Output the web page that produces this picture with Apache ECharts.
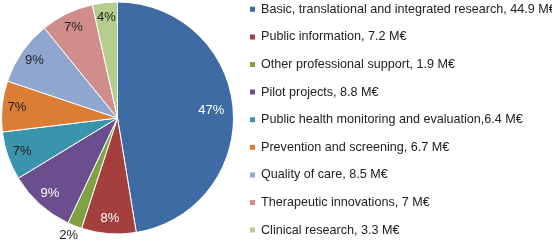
<!DOCTYPE html>
<html>
<head>
<meta charset="utf-8">
<script src="https://cdn.jsdelivr.net/npm/echarts@6/dist/echarts.min.js"></script>
<style>
html,body{margin:0;padding:0;background:#fff;}
#chart{width:552px;height:242px;}
</style>
</head>
<body>
<div id="chart"></div>
<script>
var categories = [
  'Basic, translational and integrated research, 44.9 M€',
  'Public information, 7.2 M€',
  'Other professional support, 1.9 M€',
  'Pilot projects, 8.8 M€',
  'Public health monitoring and evaluation,6.4 M€',
  'Prevention and screening, 6.7 M€',
  'Quality of care, 8.5 M€',
  'Therapeutic innovations, 7 M€',
  'Clinical research, 3.3 M€'
];
var values = [44.9, 7.2, 1.9, 8.8, 6.4, 6.7, 8.5, 7, 3.3];
var colors = ['#3F6BA5', '#A43F3D', '#80A244', '#6A4E8E', '#3A94AC', '#DB7D35', '#8FA6CF', '#D08D8C', '#B5CE8E'];
var labelColors = ['#fff', '#fff', '#222', '#fff', '#222', '#222', '#222', '#222', '#222'];
var outsideLabel = [false, false, true, false, false, false, false, false, false];
var deepLabel = [true, false, false, false, false, false, false, false, false];

var chart = echarts.init(document.getElementById('chart'), null, {renderer: 'canvas'});
var center = [117.5, 118];
var R = 116;

var mainData = categories.map(function (c, i) {
  return {name: c, value: values[i], itemStyle: {color: colors[i]}};
});
function overlayData(deep) {
  return categories.map(function (c, i) {
    var d = {name: c, value: values[i], itemStyle: {color: 'rgba(0,0,0,0)', borderWidth: 0},
      label: {color: labelColors[i], show: deepLabel[i] === deep}};
    if (outsideLabel[i]) {
      d.label.position = 'outside';
      d.label.distanceToLabelLine = -7;
      d.labelLine = {show: false, length: 10, length2: 0};
    }
    return d;
  });
}
var labelStyle = {show: true, position: 'inside', formatter: '{d}%',
  fontFamily: 'Liberation Sans, Arial, sans-serif', fontSize: 13};

chart.setOption({
  animation: false,
  color: colors,
  legend: {
    orient: 'vertical',
    left: 248,
    top: 2.3,
    padding: 0,
    icon: 'rect',
    itemWidth: 7,
    itemHeight: 7,
    itemGap: 13.6,
    selectedMode: false,
    data: categories,
    textStyle: {fontFamily: 'Liberation Sans, Arial, sans-serif', fontSize: 12.6, lineHeight: 14, color: '#222'}
  },
  series: [
    {
      type: 'pie',
      center: center,
      radius: [0, R],
      startAngle: 90,
      clockwise: true,
      silent: true,
      label: {show: false},
      labelLine: {show: false},
      itemStyle: {borderColor: '#fff', borderWidth: 1},
      emphasis: {disabled: true},
      data: mainData
    },
    {
      type: 'pie',
      center: center,
      radius: [80, R],
      startAngle: 90,
      clockwise: true,
      silent: true,
      percentPrecision: 0,
      label: labelStyle,
      labelLine: {show: false},
      emphasis: {disabled: true},
      data: overlayData(false)
    },
    {
      type: 'pie',
      center: center,
      radius: [66, R],
      startAngle: 90,
      clockwise: true,
      silent: true,
      percentPrecision: 0,
      label: labelStyle,
      labelLine: {show: false},
      emphasis: {disabled: true},
      data: overlayData(true)
    }
  ]
});
</script>
</body>
</html>
